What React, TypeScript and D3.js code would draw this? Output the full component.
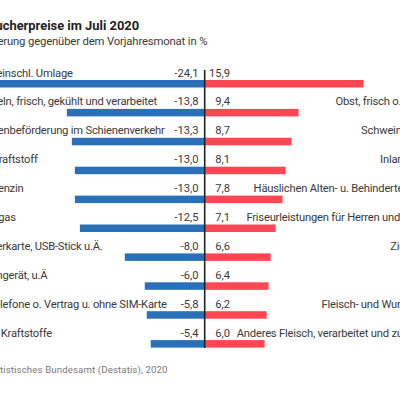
import React from "react";
import * as d3 from "d3";

const leftLabels = [
  "Heizöl einschl. Umlage",
  "Kartoffeln, frisch, gekühlt und verarbeitet",
  "Personenbeförderung im Schienenverkehr",
  "Dieselkraftstoff",
  "Superbenzin",
  "Flüssiggas",
  "Speicherkarte, USB-Stick u.Ä.",
  "Fernsehgerät, u.Ä",
  "Mobiltelefone o. Vertrag u. ohne SIM-Karte",
  "Andere Kraftstoffe",
];
const leftValues = [-24.1, -13.8, -13.3, -13.0, -13.0, -12.5, -8.0, -6.0, -5.8, -5.4];
const rightLabels = [
  "",
  "Obst, frisch o. gekühlt",
  "Schweinefleisch",
  "Inlandsflüge",
  "Häuslichen Alten- u. Behindertenpflege",
  "Friseurleistungen für Herren und Knaben",
  "Zigaretten",
  "",
  "Fleisch- und Wurstwaren",
  "Anderes Fleisch, verarbeitet und zubereitet",
];
const rightValues = [15.9, 9.4, 8.7, 8.1, 7.8, 7.1, 6.6, 6.4, 6.2, 6.0];
const title = "Verbraucherpreise im Juli 2020";
const subtitle = "Veränderung gegenüber dem Vorjahresmonat in %";
const source = "Quelle: Statistisches Bundesamt (Destatis), 2020";

const FONT = "Roboto, sans-serif";
const fmt = (v: number) => v.toFixed(1).replace(".", ",");

export default function App() {
  const x = d3.scaleLinear().domain([-24.1, 15.9]).range([205 - 241, 205 + 158.5]);
  const y = d3.scaleLinear().domain([0, 9]).range([80, 340.1]);
  const h = 7.5;
  const tx = { fontFamily: FONT, fontSize: 11.2, fill: "#3a3a3a", letterSpacing: -0.2 } as const;
  const left = -36;
  return (
    <svg width={400} height={400} style={{ position: "absolute", left: 0, top: 0, background: "#fff" }}>
      <text x={-43} y={30} style={{ fontFamily: FONT, fontSize: 12.9, fontWeight: 700, fill: "#222" }}>{title}</text>
      <text x={-37} y={44.5} style={{ ...tx, fontSize: 11.3, letterSpacing: -0.15 }}>{subtitle}</text>
      {leftValues.map((v, i) => (
        <g key={i}>
          <rect x={x(v)} y={y(i)} width={x(0) - x(v)} height={h} fill="#2a70b8" />
          <text x={198.5} y={y(i) - 3.5} textAnchor="end" style={{ ...tx, letterSpacing: 0 }}>{fmt(v)}</text>
          <text x={left} y={y(i) - 3.5} style={tx}>{leftLabels[i]}</text>
        </g>
      ))}
      {rightValues.map((v, i) => (
        <g key={i}>
          <rect x={x(0)} y={y(i)} width={x(v) - x(0)} height={h} fill="#ff4653" />
          <text x={230} y={y(i) - 3.5} textAnchor="end" style={{ ...tx, letterSpacing: 0 }}>{fmt(v)}</text>
          <text x={439} y={y(i) - 3.5} textAnchor="end" style={tx}>{rightLabels[i]}</text>
        </g>
      ))}
      <line x1={x(0)} x2={x(0)} y1={70} y2={348} stroke="#222" strokeWidth={1.6} />
      <text x={-47} y={373} style={{ ...tx, fontSize: 9.7, letterSpacing: 0.1, fill: "#7a7a7a" }}>{source}</text>
    </svg>
  );
}
